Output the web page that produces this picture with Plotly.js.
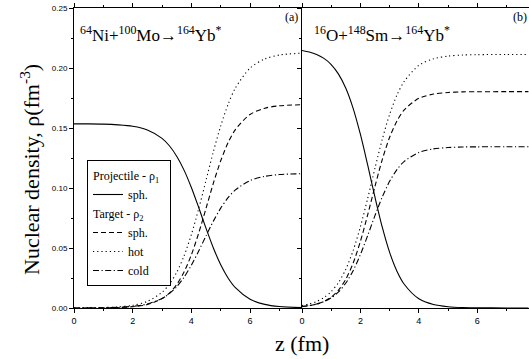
<!DOCTYPE html>
<html>
<head>
<meta charset="utf-8">
<script src="https://cdn.plot.ly/plotly-3.0.1.min.js"></script>
<style>html,body{margin:0;padding:0;background:#fff;}#chart{width:529px;height:359px;}</style>
</head>
<body>
<div id="chart"></div>
<script>
// ---- Panel (a): 64Ni + 100Mo -> 164Yb* ----
const zA = [0, 0.5, 1, 1.5, 2, 2.5, 3, 3.25, 3.5, 3.75, 4, 4.25, 4.5, 4.75, 5, 5.25, 5.5, 6, 6.5, 7, 7.75];
const projSphA = [0.1534, 0.1534, 0.1532, 0.1526, 0.1514, 0.1484, 0.1414, 0.1352, 0.1265, 0.1149, 0.1004, 0.0837, 0.0663, 0.0500, 0.0360, 0.0250, 0.0169, 0.0073, 0.0030, 0.0012, 0.0003];
const targSphA  = [0.0000, 0.0001, 0.0001, 0.0004, 0.0011, 0.0029, 0.0078, 0.0124, 0.0195, 0.0300, 0.0443, 0.0625, 0.0831, 0.1040, 0.1227, 0.1377, 0.1487, 0.1613, 0.1665, 0.1685, 0.1694];
const targHotA  = [0.0001, 0.0001, 0.0004, 0.0009, 0.0022, 0.0055, 0.0131, 0.0199, 0.0297, 0.0434, 0.0612, 0.0827, 0.1065, 0.1303, 0.1518, 0.1696, 0.1833, 0.1999, 0.2075, 0.2108, 0.2124];
const targColdA = [0.0000, 0.0001, 0.0002, 0.0006, 0.0014, 0.0033, 0.0079, 0.0120, 0.0177, 0.0256, 0.0357, 0.0475, 0.0602, 0.0724, 0.0832, 0.0919, 0.0984, 0.1062, 0.1097, 0.1112, 0.1119];

// ---- Panel (b): 16O + 148Sm -> 164Yb* ----
const zB = [0, 0.25, 0.5, 0.75, 1, 1.25, 1.5, 1.75, 2, 2.25, 2.5, 2.75, 3, 3.25, 3.5, 4, 4.5, 5, 5.5, 6, 7, 7.75];
const projSphB  = [0.2146, 0.2133, 0.2112, 0.2080, 0.2029, 0.1949, 0.1831, 0.1664, 0.1446, 0.1190, 0.0921, 0.0671, 0.0463, 0.0307, 0.0198, 0.0077, 0.0029, 0.0011, 0.0004, 0.0002, 0.0000, 0.0000];
const targSphB  = [0.0011, 0.0019, 0.0032, 0.0055, 0.0091, 0.0149, 0.0240, 0.0374, 0.0556, 0.0778, 0.1016, 0.1239, 0.1423, 0.1558, 0.1651, 0.1747, 0.1783, 0.1796, 0.1801, 0.1802, 0.1803, 0.1803];
const targHotB  = [0.0021, 0.0034, 0.0054, 0.0087, 0.0137, 0.0212, 0.0323, 0.0478, 0.0678, 0.0915, 0.1168, 0.1408, 0.1614, 0.1774, 0.1889, 0.2022, 0.2077, 0.2099, 0.2108, 0.2111, 0.2113, 0.2113];
const targColdB = [0.0012, 0.0020, 0.0033, 0.0053, 0.0085, 0.0134, 0.0208, 0.0311, 0.0446, 0.0605, 0.0772, 0.0927, 0.1056, 0.1153, 0.1222, 0.1296, 0.1326, 0.1337, 0.1342, 0.1343, 0.1344, 0.1344];

const yTickVals = [0, 0.05, 0.10, 0.15, 0.20, 0.25];
const xTickVals = [0, 2, 4, 6];

const SERIF = 'Liberation Serif';
const SANS = 'Liberation Sans';

const dashSph = '5px,3px';
const dashHot = '1.2px,3px';
const dashCold = '6px,2.5px,1.2px,2.5px';

function tr(x, y, dash, name, group, gtitle, axes, show) {
  const t = {
    x: x, y: y, type: 'scatter', mode: 'lines', name: name,
    line: {color: '#000', width: 1.1, dash: dash, shape: 'spline', smoothing: 0.8},
    xaxis: axes[0], yaxis: axes[1], showlegend: show, legendgroup: group,
    hoverinfo: 'skip'
  };
  if (gtitle) t.legendgrouptitle = {text: gtitle, font: {family: SERIF, size: 12, color: '#000'}};
  return t;
}

const data = [
  tr(zA, projSphA, 'solid', 'sph.', 'p', 'Projectile - ρ<sub>1</sub>', ['x', 'y'], true),
  tr(zA, targSphA, dashSph, 'sph.', 't', 'Target - ρ<sub>2</sub>', ['x', 'y'], true),
  tr(zA, targHotA, dashHot, 'hot', 't', null, ['x', 'y'], true),
  tr(zA, targColdA, dashCold, 'cold', 't', null, ['x', 'y'], true),
  tr(zB, projSphB, 'solid', 'sph.', 'p2', null, ['x2', 'y2'], false),
  tr(zB, targSphB, dashSph, 'sph.', 't2', null, ['x2', 'y2'], false),
  tr(zB, targHotB, dashHot, 'hot', 't2', null, ['x2', 'y2'], false),
  tr(zB, targColdB, dashCold, 'cold', 't2', null, ['x2', 'y2'], false)
];

const split = 228 / 455;

const xBase = {
  range: [0, 7.77], tickvals: xTickVals, ticktext: xTickVals.map(String),
  ticks: 'outside', ticklen: 4, tickwidth: 1, tickcolor: '#000',
  minor: {dtick: 1, tick0: 0, ticks: 'outside', ticklen: 2, tickcolor: '#000'},
  showline: true, linecolor: '#000', linewidth: 1, mirror: 'ticks',
  showgrid: false, zeroline: false,
  tickfont: {family: SANS, size: 9, color: '#000'}
};
const yBase = {
  range: [0, 0.25], tickvals: yTickVals,
  ticks: 'outside', ticklen: 4, tickwidth: 1, tickcolor: '#000',
  minor: {dtick: 0.025, tick0: 0, ticks: 'outside', ticklen: 2, tickcolor: '#000'},
  showline: true, linecolor: '#000', linewidth: 1, mirror: false,
  showgrid: false, zeroline: false,
  tickfont: {family: SANS, size: 8, color: '#000'}
};

const layout = {
  width: 529, height: 359,
  margin: {l: 74, r: 0, t: 8, b: 51},
  paper_bgcolor: '#fff', plot_bgcolor: '#fff',
  font: {family: SERIF, color: '#000'},
  showlegend: true,
  xaxis: Object.assign({}, xBase, {domain: [0, split], anchor: 'y'}),
  xaxis2: Object.assign({}, xBase, {domain: [split, 1], anchor: 'y2'}),
  yaxis: Object.assign({}, yBase, {domain: [0, 1], anchor: 'x', tickformat: '.2f'}),
  yaxis2: Object.assign({}, yBase, {domain: [0, 1], anchor: 'x2', showticklabels: false}),
  legend: {
    x: 13 / 455, y: (308 - 160) / 300, xanchor: 'left', yanchor: 'top',
    bgcolor: '#fff', bordercolor: '#000', borderwidth: 1,
    font: {family: SERIF, size: 12, color: '#000'},
    traceorder: 'grouped', tracegroupgap: 0, itemwidth: 30
  },
  annotations: [
    {text: 'Nuclear density, ρ(fm<sup>-3</sup>)', xref: 'paper', yref: 'paper',
     x: -44 / 455, y: (308 - 170) / 300, xanchor: 'center', yanchor: 'middle', textangle: -90,
     showarrow: false, font: {family: SERIF, size: 22, color: '#000'}},
    {text: '<sup>64</sup>Ni+<sup>100</sup>Mo→<sup>164</sup>Yb<sup>*</sup>', xref: 'paper', yref: 'paper',
     x: 4 / 455, y: 0.957, xanchor: 'left', yanchor: 'top', showarrow: false,
     font: {family: SERIF, size: 17, color: '#000'}},
    {text: '(a)', xref: 'paper', yref: 'paper', x: split - 0.004, y: 1.0, xanchor: 'right', yanchor: 'top',
     showarrow: false, font: {family: SERIF, size: 12, color: '#000'}},
    {text: '<sup>16</sup>O+<sup>148</sup>Sm→<sup>164</sup>Yb<sup>*</sup>', xref: 'paper', yref: 'paper',
     x: split + 10 / 455, y: 0.957, xanchor: 'left', yanchor: 'top', showarrow: false,
     font: {family: SERIF, size: 17, color: '#000'}},
    {text: '(b)', xref: 'paper', yref: 'paper', x: 1.0, y: 1.0, xanchor: 'right', yanchor: 'top',
     showarrow: false, font: {family: SERIF, size: 12, color: '#000'}},
    {text: 'z (fm)', xref: 'paper', yref: 'paper', x: 0.5, y: -35 / 300, xanchor: 'center', yanchor: 'middle',
     showarrow: false, font: {family: SERIF, size: 22, color: '#000'}}
  ]
};

Plotly.newPlot('chart', data, layout, {displayModeBar: false, staticPlot: true});
</script>
</body>
</html>
